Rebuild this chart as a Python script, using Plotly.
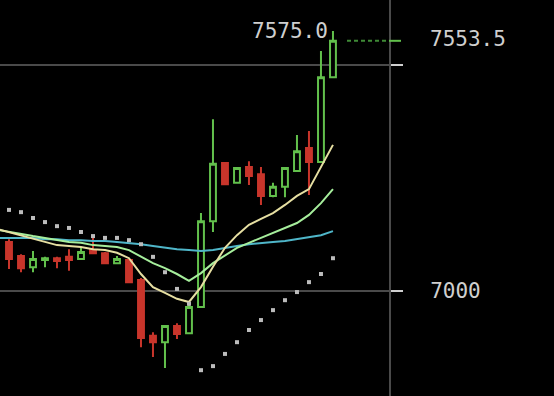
import plotly.graph_objects as go

idx = list(range(28))
opens = [7108, 7077, 7052, 7068, 7072, 7075, 7070, 7090, 7083, 7061, 7068, 7024, 6900, 6886,
         6922, 6906, 6964, 7154, 7283, 7239, 7274, 7258, 7210, 7230, 7265, 7316, 7285, 7473]
highs = [7114, 7081, 7088, 7075, 7075, 7092, 7097, 7117, 7086, 7077, 7072, 7028, 6908, 6924,
         6928, 6970, 7172, 7380, 7285, 7274, 7287, 7274, 7239, 7274, 7345, 7354, 7531, 7575]
lows = [7048, 7041, 7041, 7052, 7050, 7044, 7068, 7081, 7059, 7061, 7017, 6875, 6853, 6829,
        6893, 6904, 6962, 7130, 7234, 7238, 7234, 7190, 7207, 7207, 7263, 7212, 7283, 7471]
closes = [7070, 7050, 7070, 7072, 7066, 7068, 7086, 7083, 7061, 7070, 7019, 6895, 6886, 6922,
          6904, 6964, 7154, 7281, 7236, 7272, 7254, 7210, 7230, 7272, 7309, 7285, 7473, 7553.5]

ma_idx = list(range(-1, 28))
ma_yellow = [7137, 7130, 7123, 7115, 7108, 7101, 7099, 7097, 7092, 7090, 7084, 7072, 7037, 7008,
             6995, 6982, 6975, 7008, 7053, 7095, 7123, 7146, 7159, 7172, 7190, 7210, 7225, 7274, 7323]
ma_green = [7135, 7130, 7126, 7121, 7117, 7112, 7108, 7106, 7101, 7099, 7097, 7090, 7075, 7061,
            7050, 7037, 7022, 7039, 7061, 7079, 7095, 7106, 7117, 7128, 7139, 7150, 7168, 7194, 7225]
ma_cyan = [7117, 7117, 7117, 7117, 7114, 7114, 7112, 7112, 7110, 7110, 7108, 7106, 7103, 7099,
           7095, 7092, 7090, 7088, 7090, 7095, 7099, 7103, 7106, 7108, 7110, 7114, 7119, 7123, 7132]

sar = [7179, 7174, 7161, 7152, 7143, 7139, 7130, 7121, 7117, 7117, 7112, 7103, 7075, 7041,
       7004, 6971, 6824, 6833, 6860, 6886, 6913, 6935, 6957, 6979, 6997, 7019, 7037, 7072]

tick_vals = [7000, 7500]
tick_text = ["7000", ""]
last_price = 7553.5
high_price = 7575.0

GREEN = "#62c04c"
RED = "#c8352b"
TXT = "#cfcfcf"
FONT = "DejaVu Sans Mono"

fig = go.Figure()
fig.add_trace(go.Scatter(x=ma_idx, y=ma_cyan, mode="lines", line=dict(color="#4fb6c9", width=2), hoverinfo="skip"))
fig.add_trace(go.Scatter(x=ma_idx, y=ma_green, mode="lines", line=dict(color="#a6ee9c", width=2), hoverinfo="skip"))
fig.add_trace(go.Scatter(x=ma_idx, y=ma_yellow, mode="lines", line=dict(color="#e6dfa2", width=2), hoverinfo="skip"))
fig.add_trace(go.Candlestick(
    x=idx, open=opens, high=highs, low=lows, close=closes,
    increasing=dict(line=dict(color=GREEN, width=2), fillcolor="black"),
    decreasing=dict(line=dict(color=RED, width=2), fillcolor=RED),
    whiskerwidth=0,
))
fig.add_trace(go.Scatter(x=idx, y=sar, mode="markers",
                         marker=dict(symbol="square", size=4, color="#bcbcbc"), hoverinfo="skip"))

fig.add_shape(type="line", xref="paper", yref="y", x0=347/389, x1=1.0, y0=last_price, y1=last_price,
              line=dict(color="#3f8a36", width=2, dash="4px,3px"))
fig.add_shape(type="line", xref="paper", yref="y", x0=1.0, x1=1.0 + 12/389, y0=last_price, y1=last_price,
              line=dict(color=GREEN, width=2))

fig.add_annotation(xref="paper", x=1.0, xanchor="left", xshift=39, y=last_price, yref="y",
                   yanchor="middle", yshift=2, text=f"{last_price:.1f}", showarrow=False,
                   font=dict(family=FONT, size=21, color=TXT))
fig.add_annotation(xref="x", x=27, xanchor="right", xshift=-3, y=high_price, yref="y",
                   yanchor="middle", text=f"{high_price:.1f}", showarrow=False,
                   font=dict(family=FONT, size=21, color=TXT))

fig.update_layout(
    width=554, height=396,
    margin=dict(l=0, r=165, t=0, b=0),
    paper_bgcolor="black", plot_bgcolor="black",
    showlegend=False,
    xaxis=dict(range=[-0.75, 31.67], visible=False, rangeslider=dict(visible=False)),
    yaxis=dict(range=[6766.8, 7643.9], side="right", tickvals=tick_vals, ticktext=tick_text,
               ticks="outside", ticklen=12, tickwidth=2, tickcolor="#cfcfcf",
               showgrid=True, gridcolor="#4a4a4a", gridwidth=2,
               showline=True, linecolor="#4a4a4a", linewidth=2, zeroline=False,
               ticklabelstandoff=23,
               tickfont=dict(family=FONT, size=21, color=TXT)),
)

fig.write_html("out.html")
